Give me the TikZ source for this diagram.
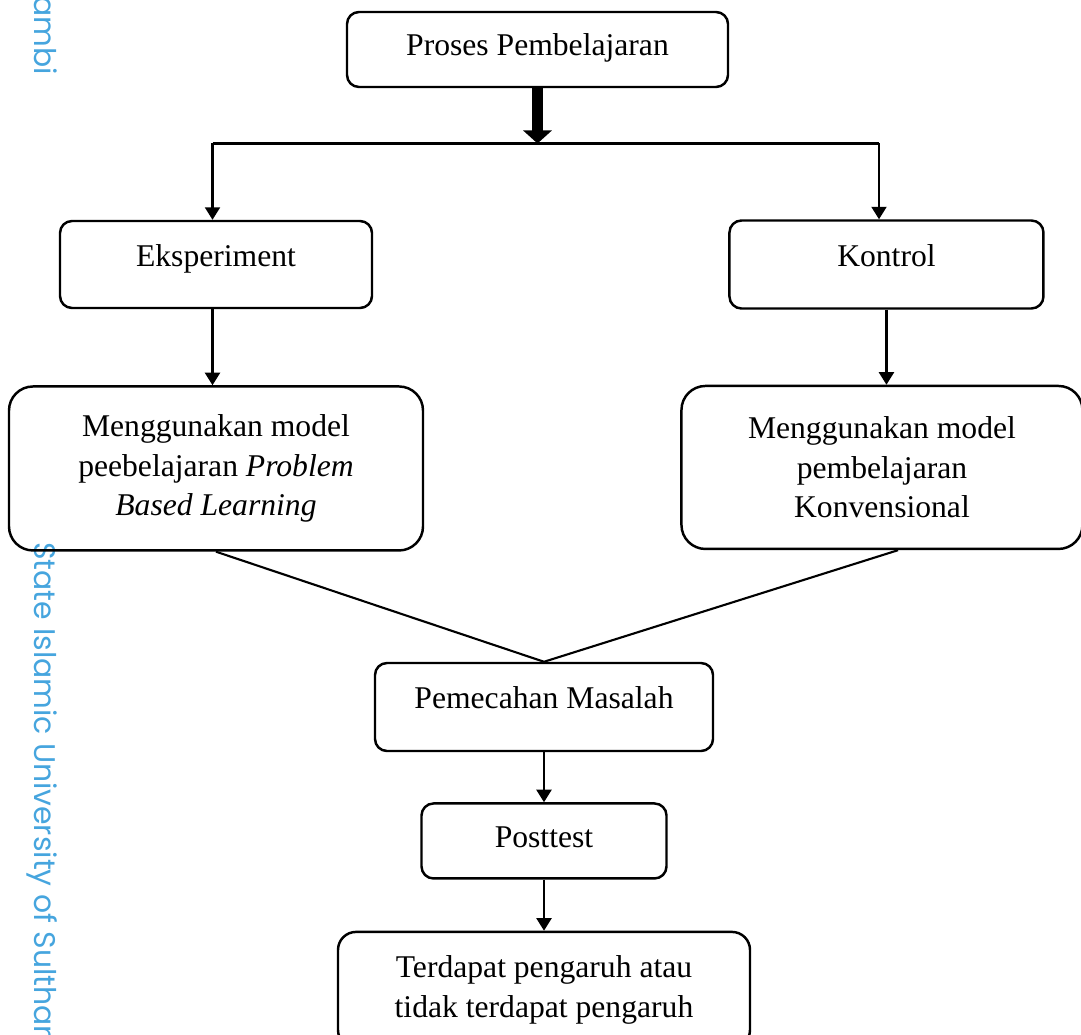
\documentclass[tikz,border=0pt]{standalone}
\usepackage{fontspec}
\setmainfont{Liberation Serif}
\newfontfamily\wmfont{Poppins}
\usetikzlibrary{
    arrows.meta,
    positioning
}
\definecolor{wmblue}{RGB}{70,165,222}
\tikzset{
    stage/.style = {
        rectangle,
        rounded corners=0.24cm,
        draw,
        line width=1.4pt,
        inner sep=0pt,
        align=center,
        font=\fontsize{18}{22.5}\selectfont
    },
    method/.style = {
        stage,
        rounded corners=0.48cm
    },
    onetext/.style = {text height=12pt, text depth=5pt},
    toptext/.style = {text height=12pt, text depth=10pt},
    arrow/.style = {
        -{Triangle[width=0.3cm,length=0.25cm]},
        line width=1.2pt
    },
    bigarrow/.style = {
        -{Triangle[width=0.56cm,length=0.26cm]},
        line width=6.3pt
    },
    joinline/.style = {line width=1.2pt},
    watermark/.style = {
        rotate=-90,
        inner sep=0pt,
        text=wmblue,
        font=\wmfont\fontsize{17}{20}\selectfont
    }
}

\begin{document}
\begin{tikzpicture}
\useasboundingbox (0,0) rectangle (21.62,-20.7);
% watermark at the left edge
\node (wmtop) [watermark, anchor=base east] at (0.68,-1.5) {ambi};
\node (wmside) [watermark, anchor=base west] at (0.68,-10.84) {State Islamic University of Sulthan};

% boxes
\node (proses) [stage, onetext, minimum width=7.62cm, minimum height=1.5cm] at (10.75,-0.99) {Proses Pembelajaran};
\node (eksp) [stage, toptext, minimum width=6.24cm, minimum height=1.74cm] at (4.32,-5.29) {Eksperiment};
\node (kontrol) [stage, toptext, right=7.1cm of eksp, minimum width=6.28cm, minimum height=1.76cm] {Kontrol};
\node (pbl) [method, below=1.52cm of eksp, minimum width=8.28cm, minimum height=3.28cm] {Menggunakan model\\peebelajaran \textit{Problem}\\\textit{Based Learning}};
\node (konv) [method, below=1.5cm of kontrol, xshift=-0.09cm, minimum width=8.02cm, minimum height=3.26cm] {Menggunakan model\\pembelajaran\\Konvensional};
\node (masalah) [stage, toptext, minimum width=6.76cm, minimum height=1.76cm] at (10.88,-14.14) {Pemecahan Masalah};
\node (post) [stage, onetext, below=1cm of masalah, minimum width=4.9cm, minimum height=1.5cm] {Posttest};
\node (hasil) [stage, rounded corners=0.36cm, below=1.02cm of post, minimum width=8.24cm, minimum height=2.32cm] {Terdapat pengaruh atau\\tidak terdapat pengaruh};

% connectors
\coordinate (splitL) at (4.25,-2.87);
\coordinate (splitR) at (17.58,-2.87);
\draw[bigarrow] (proses.south) -- (proses.south |- splitL);
\draw[joinline] (splitL) -- (splitR);
\draw[arrow] (splitL) -- (splitL |- eksp.north);
\draw[arrow] (splitR) -- (splitR |- kontrol.north);
\draw[arrow] (eksp.south -| splitL) -- (splitL |- pbl.north);
\draw[arrow] (kontrol.south) -- (kontrol.south |- konv.north);
\draw[joinline] (pbl.south) -- (masalah.north) -- (konv.-79);
\draw[arrow] (masalah.south) -- (post.north);
\draw[arrow] (post.south) -- (hasil.north);
\end{tikzpicture}
\end{document}
